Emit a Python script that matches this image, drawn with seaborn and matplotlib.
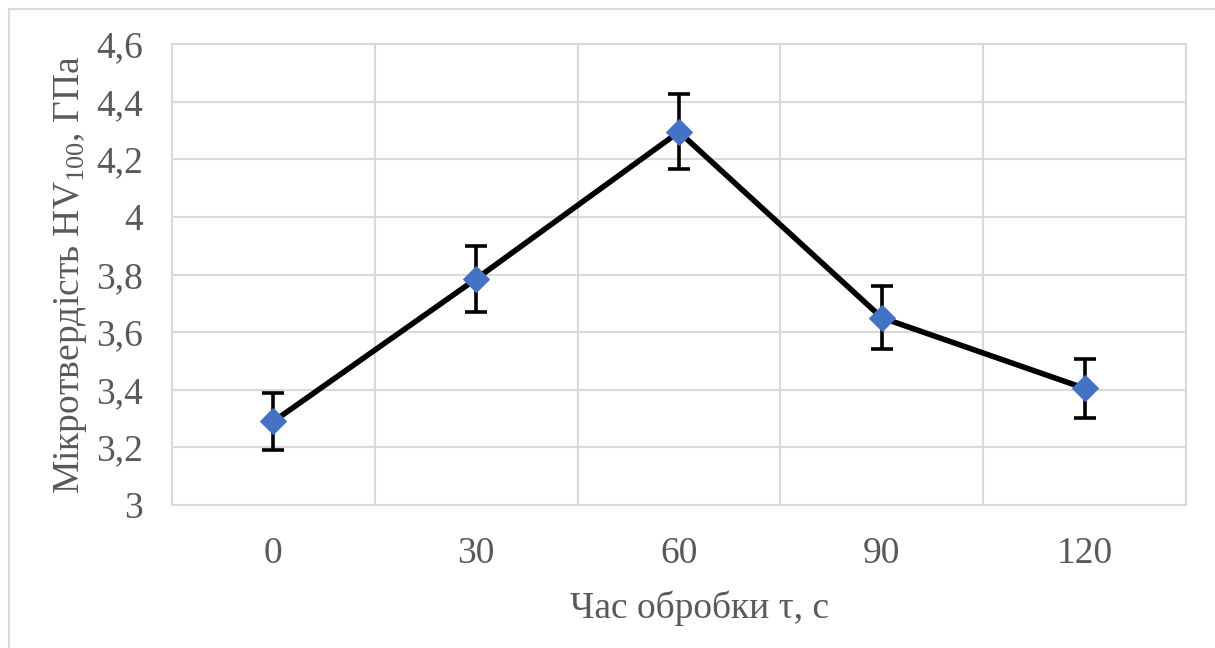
import matplotlib
matplotlib.use("Agg")
import matplotlib.pyplot as plt
import seaborn as sns
import pandas as pd
from matplotlib.patches import Rectangle

# Treatment time categories and measured microhardness
time_labels = ["0", "30", "60", "90", "120"]
hardness = [3.29, 3.785, 4.295, 3.65, 3.405]
hardness_err = [0.10, 0.115, 0.13, 0.11, 0.103]
y_ticks = [3.0, 3.2, 3.4, 3.6, 3.8, 4.0, 4.2, 4.4, 4.6]

sns.set_theme(style="white")
plt.rcParams["font.family"] = ["Liberation Serif", "DejaVu Serif"]
plt.rcParams["mathtext.fontset"] = "custom"
plt.rcParams["mathtext.rm"] = "Liberation Serif"
plt.rcParams["mathtext.it"] = "Liberation Serif:italic"

text_color = "#595959"
grid_color = "#D9D9D9"

df = pd.DataFrame({"pos": range(len(time_labels)), "hv": hardness})

fig = plt.figure(figsize=(12.15, 6.48), dpi=100)
ax = fig.add_axes([172 / 1215, 1 - 505 / 648, 1014 / 1215, 461 / 648])

# outer chart frame
fig.patches.append(Rectangle((9 / 1215, -0.1), 1.2, 1 - 9 / 648 + 0.1,
                             transform=fig.transFigure, fill=False,
                             edgecolor=grid_color, linewidth=1.5, zorder=0))

ax.errorbar(df["pos"], df["hv"], yerr=hardness_err, fmt="none",
            ecolor="black", elinewidth=2.6, capsize=8, capthick=2.6, zorder=3)
sns.lineplot(data=df, x="pos", y="hv", ax=ax, color="black", linewidth=4.0,
             marker="D", markersize=13, markerfacecolor="#4472C4",
             markeredgecolor="#4472C4", zorder=4)

ax.set_xlim(-0.5, len(time_labels) - 0.5)
ax.set_ylim(3.0, 4.6)
ax.set_xticks(range(len(time_labels)))
ax.set_xticklabels(time_labels)
ax.set_yticks(y_ticks)
ax.set_yticklabels([("%g" % v).replace(".", ",") for v in y_ticks])

# vertical gridlines sit on the category boundaries
for b in [0.5, 1.5, 2.5, 3.5]:
    ax.axvline(b, color=grid_color, linewidth=1.5, zorder=1)
ax.yaxis.grid(True, color=grid_color, linewidth=1.5, zorder=1)
ax.set_axisbelow(True)
for s in ax.spines.values():
    s.set_color(grid_color)
    s.set_linewidth(1.5)

ax.tick_params(axis="both", length=0, labelsize=27, labelcolor=text_color)
ax.tick_params(axis="x", pad=23)
ax.tick_params(axis="y", pad=21)

ax.set_xlabel("Час обробки τ, с", fontsize=27, color=text_color, labelpad=14)
ax.xaxis.label.set_x(0.52)
ax.set_ylabel(r"Мікротвердість HV$_{\mathrm{100}}$, ГПа", fontsize=27,
              color=text_color, labelpad=5)

fig.savefig("out.png", dpi=100, facecolor="white")
